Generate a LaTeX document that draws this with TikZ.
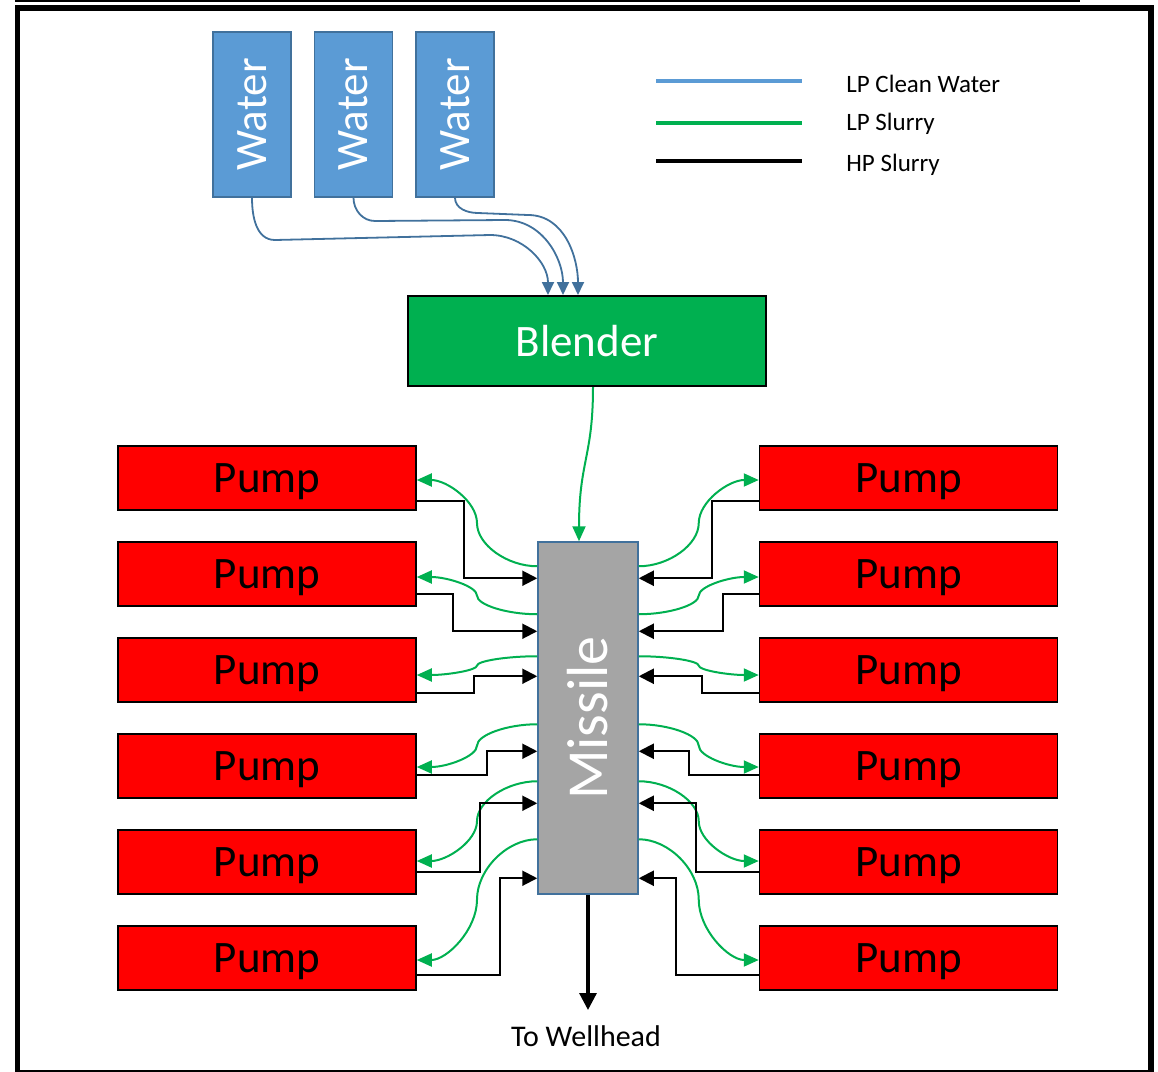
\documentclass[tikz,border=0pt]{standalone}
\usepackage{fontspec}
\setmainfont{Carlito}
\usepackage{graphicx}
\usepackage{tikz}
\usetikzlibrary{positioning, calc, arrows.meta}

\definecolor{tankblue}{HTML}{5B9BD5}
\definecolor{tankedge}{HTML}{41719C}
\definecolor{blendgreen}{HTML}{00B050}
\definecolor{missilegray}{HTML}{A5A5A5}

\begin{document}
\begin{tikzpicture}[
            x=0.5pt, y=0.5pt,
            tankbox/.style={
                rectangle, draw=tankedge, fill=tankblue, line width=0.75pt,
                minimum width=39pt, minimum height=82.5pt, inner sep=0pt,
                text=white, font=\fontsize{22.5}{27}\selectfont
            },
            blenderbox/.style={
                rectangle, draw=black, fill=blendgreen, line width=1pt,
                minimum width=179pt, minimum height=45pt,
                text=white, font=\fontsize{22.5}{27}\selectfont
            },
            missilebox/.style={
                rectangle, draw=tankedge, fill=missilegray, line width=0.75pt,
                minimum width=50pt, minimum height=176pt, inner sep=0pt,
                text=white, font=\fontsize{29}{34}\selectfont
            },
            pumpbox/.style={
                rectangle, draw=black, fill=red, line width=0.75pt,
                minimum width=149pt, minimum height=32pt, text depth=0pt,
                text=black, font=\fontsize{22.5}{27}\selectfont
            },
            legendtext/.style={anchor=west, inner sep=0pt, font=\fontsize{12.5}{15}\selectfont},
            waterpipe/.style={draw=tankedge, line width=0.9pt, -{Triangle[length=6.5pt,width=6pt]}},
            lpline/.style={draw=blendgreen, line width=1pt, -{Triangle[length=7.5pt,width=6.5pt]}},
            hpline/.style={draw=black, line width=1pt, -{Triangle[length=7.5pt,width=7.5pt]}}
        ]
            \useasboundingbox (0,0) rectangle (1158,-1072);
            % frame
            \draw[line width=0.75pt] (15,-1) -- (1080,-1);
            \draw[line width=2.75pt] (17.5,-1072) -- (17.5,-8) -- (1151,-8) -- (1151,-1072);
            \draw[line width=1pt] (15,-1070.5) -- (1154,-1070.5);

            % water tanks and blender
            \node[tankbox] (w1) at (252,-114.5) {\rotatebox{90}{Water}};
            \node[tankbox, right=11pt of w1] (w2) {\rotatebox{90}{Water}};
            \node[tankbox, right=11pt of w2] (w3) {\rotatebox{90}{Water}};
            \node[blenderbox] (blender) at (587,-341) {Blender};

            \draw[waterpipe] (w1.south) to[out=-90,in=180] (275,-240) -- (490,-235) to[out=0,in=90] ($(blender.north)+(-39,0)$);
            \draw[waterpipe] (w2.south) to[out=-90,in=180] (375,-221) -- (505,-220) to[out=0,in=90] ($(blender.north)+(-24,0)$);
            \draw[waterpipe] (w3.south) to[out=-90,in=180] (478,-213) -- (528,-215) to[out=0,in=90] ($(blender.north)+(-9,0)$);

            % legend
            \node[legendtext] (lgclean) at (846,-83.5) {LP Clean Water};
            \node[legendtext] (lgslurry) at (846,-123.5) {LP Slurry};
            \node[legendtext] (lghp) at (846,-164.5) {HP Slurry};
            \draw[tankblue, line width=2pt] ($(lgclean.west)+(-190,2.5)$) -- ++(146,0);
            \draw[blendgreen, line width=2pt] ($(lgslurry.west)+(-190,0.5)$) -- ++(146,0);
            \draw[black, line width=2pt] ($(lghp.west)+(-190,3.5)$) -- ++(146,0);

            % missile and pumps
            \node[missilebox] (missile) at (588,-718) {\rotatebox{90}{Missile}};
            \draw[lpline] ($(blender.south)+(6,0)$) .. controls +(0,-70) and +(0,80) .. ($(missile.north)+(-9,0)$);

            \foreach \i/\gm/\gp/\bp/\dx/\bm in {1/-25/-2/-23/73/-37, 2/-73/-3/-20/84/-90, 3/-115/-5/-23/63/-135,
                                                4/-183/-1/-9/50/-210, 5/-240/1/-10/57/-262, 6/-298/-2/-17/37/-337} {
                \node[pumpbox] (pl\i) at (267,{-382-96*\i}) {Pump};
                \node[pumpbox] (pr\i) at (908.5,{-382-96*\i}) {Pump};
                % curved LP slurry feeds
                \coordinate (ls) at ($(missile.north west)+(0,\gm)$);
                \coordinate (le) at ($(pl\i.east)+(0,\gp)$);
                \coordinate (la) at ($(ls)!0.25!(le)$);
                \coordinate (lm) at ($(ls)!0.5!(le)$);
                \coordinate (lb) at ($(ls)!0.75!(le)$);
                \draw[lpline] (ls) .. controls (la |- ls) and (lm |- la) .. (lm) .. controls (lm |- lb) and (lb |- le) .. (le);
                \coordinate (rs) at ($(missile.north east)+(0,\gm)$);
                \coordinate (re) at ($(pr\i.west)+(0,\gp)$);
                \coordinate (ra) at ($(rs)!0.25!(re)$);
                \coordinate (rm) at ($(rs)!0.5!(re)$);
                \coordinate (rb) at ($(rs)!0.75!(re)$);
                \draw[lpline] (rs) .. controls (ra |- rs) and (rm |- ra) .. (rm) .. controls (rm |- rb) and (rb |- re) .. (re);
                % HP slurry back
                \draw[hpline] ($(pl\i.east)+(0,\bp)$) -| ($(missile.north west)+(-\dx,\bm)$) -- ($(missile.north west)+(0,\bm)$);
                \draw[hpline] ($(pr\i.west)+(0,\bp)$) -| ($(missile.north east)+(\dx,\bm)$) -- ($(missile.north east)+(0,\bm)$);
            }

            % out to the well
            \node[font=\fontsize{15}{18}\selectfont] (well) at (586,-1036) {To Wellhead};
            \coordinate (wellend) at (588,-1010);
            \draw[line width=1.6pt, -{Triangle[length=8.5pt,width=8.5pt]}] (missile.south) -- (wellend);
        \end{tikzpicture}
\end{document}
